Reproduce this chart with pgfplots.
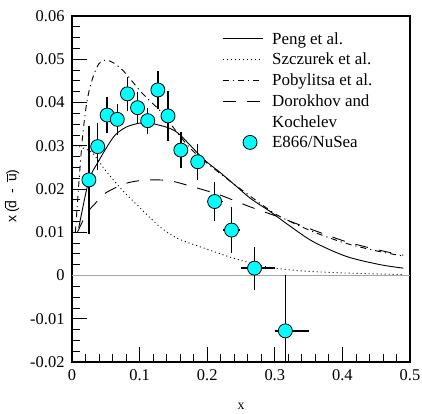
\documentclass[border=0pt]{standalone}
\usepackage{fontspec}
\setmainfont{Liberation Serif}
\newfontfamily\labelsans{Liberation Sans}
\usepackage{pgfplots}
\usepackage{pgfplotstable}
\pgfplotsset{compat=1.18}
\usetikzlibrary{calc}
\definecolor{aqua}{RGB}{0,255,255}
\newcommand\ovl[1]{\ensuremath{\overline{\mbox{#1}}}}

% E866/NuSea points: x, y, x errors, y errors
\pgfplotstableread{
x       y        xm     xp     ym      yp
0.025   0.0221   0.005  0.005  0.0125  0.0125
0.038   0.0298   0.005  0.005  0.0055  0.0055
0.052   0.0371   0.005  0.005  0.0042  0.0042
0.067   0.0361   0.005  0.005  0.0036  0.0036
0.082   0.0420   0.005  0.005  0.0039  0.0039
0.097   0.0388   0.005  0.005  0.0036  0.0036
0.112   0.0358   0.005  0.005  0.0030  0.0030
0.127   0.0429   0.005  0.005  0.0044  0.0044
0.142   0.0369   0.006  0.006  0.0058  0.0058
0.161   0.0290   0.010  0.010  0.0042  0.0042
0.186   0.0263   0.010  0.010  0.0042  0.0042
0.211   0.0171   0.012  0.012  0.0045  0.0045
0.236   0.0105   0.012  0.012  0.0054  0.0054
0.270   0.0017   0.020  0.030  0.0050  0.0050
0.3156  -0.0128  0.015  0.035  0.0072  0.0128
}\nusea

\begin{document}
\begin{tikzpicture}
\begin{axis}[
    scale only axis,
    width=338bp, height=346bp,
    xmin=0, xmax=0.5, ymin=-0.02, ymax=0.06,
    xtick={0,0.1,0.2,0.3,0.4,0.5},
    ytick={-0.02,-0.01,0,0.01,0.02,0.03,0.04,0.05,0.06},
    minor x tick num=4, minor y tick num=3,
    tick align=inside, xtick pos=bottom, ytick pos=left,
    major tick length=15bp, minor tick length=8bp,
    tick style={black, line width=0.8bp},
    axis line style={line width=1.2bp},
    scaled ticks=false,
    /pgf/number format/assume math mode=true,
    xticklabel style={/pgf/number format/fixed, yshift=-4bp},
    yticklabel style={/pgf/number format/fixed, /pgf/number format/precision=2, xshift=-4bp},
    tick label style={font=\fontsize{16.5}{18}\selectfont},
    xlabel={x},
    xlabel style={font=\fontsize{14}{16}\selectfont, at={(axis description cs:0.5,-0.128)}, anchor=center},
    ylabel={\labelsans x\,(\ovl{d}\enspace-\enspace\ovl{u})},
    ylabel style={font=\fontsize{14}{16}\selectfont, at={(axis description cs:-0.178,0.48)}, anchor=center},
    legend cell align=left,
    legend style={draw=none, fill=none, at={(0.435,0.965)}, anchor=north west,
        font=\fontsize{17}{19}\selectfont, row sep=3.5bp,
        nodes={inner sep=2bp},
        /tikz/every odd column/.append style={column sep=7bp}},
    legend image code/.code={\draw[#1] (0bp,0bp) -- (40bp,0bp);},
]
\addplot[gray!70, line width=1bp, forget plot] coordinates {(0,0) (0.5,0)};

\addplot[black, line width=0.9bp, smooth] coordinates {
    (0.010,0.0110) (0.025,0.0220) (0.040,0.0266) (0.052,0.0298) (0.064,0.0325)
    (0.080,0.0343) (0.099,0.0352) (0.115,0.0352) (0.128,0.0348) (0.145,0.0340)
    (0.160,0.0325) (0.194,0.0270) (0.220,0.0237) (0.244,0.0205) (0.265,0.0177)
    (0.293,0.0148) (0.320,0.0117) (0.357,0.0078) (0.406,0.0044) (0.456,0.0025)
    (0.490,0.0017)};
\addlegendentry{Peng et al.}

\addplot[black, line width=0.9bp, smooth, dash pattern=on 1bp off 3bp] coordinates {
    (0.005,0.0300) (0.012,0.0297) (0.030,0.0284) (0.049,0.0244) (0.074,0.0198)
    (0.099,0.0159) (0.128,0.0115) (0.145,0.0096) (0.160,0.0083) (0.194,0.0064)
    (0.239,0.0040) (0.288,0.0020) (0.337,0.0011) (0.400,0.0006) (0.490,0.0002)};
\addlegendentry{Szczurek et al.}

\addplot[black, line width=0.9bp, smooth, dash pattern=on 6bp off 4bp on 1.2bp off 4bp] coordinates {
    (0.005,0.0100) (0.010,0.0210) (0.015,0.0310) (0.020,0.0380) (0.025,0.0425)
    (0.032,0.0463) (0.040,0.0490) (0.049,0.0498) (0.060,0.0493) (0.076,0.0473)
    (0.099,0.0430) (0.113,0.0407) (0.133,0.0376) (0.175,0.0294) (0.219,0.0236)
    (0.278,0.0167) (0.308,0.0136) (0.357,0.0101) (0.406,0.0074) (0.456,0.0055)
    (0.490,0.0045)};
\addlegendentry{Pobylitsa et al.}

\addplot[black, line width=0.9bp, smooth, dash pattern=on 13bp off 11bp] coordinates {
    (0.008,0.0100) (0.022,0.0144) (0.037,0.0171) (0.049,0.0190) (0.074,0.0210)
    (0.094,0.0218) (0.118,0.0221) (0.145,0.0219) (0.179,0.0205) (0.219,0.0186)
    (0.263,0.0159) (0.308,0.0134) (0.357,0.0105) (0.406,0.0078) (0.456,0.0058)
    (0.490,0.0047)};
\addlegendentry{Dorokhov and}
\addlegendimage{empty legend}
\addlegendentry{Kochelev}

\addplot[only marks, mark=*, mark size=7bp,
    mark options={fill=aqua, draw=black, line width=0.8bp},
    legend image code/.code={
        \node[inner sep=0pt, minimum size=0pt, draw=none, fill=none] at (0bp,0bp) {};
        \node[inner sep=0pt, minimum size=0pt, draw=none, fill=none] at (40bp,0bp) {};
        \node[circle, draw=black, fill=aqua, line width=0.8bp,
        inner sep=0pt, minimum size=14bp] at (20bp,0bp) {};},
    error bars/.cd, x dir=both, x explicit, y dir=both, y explicit,
    error bar style={line width=1.5bp, black}, error mark=none]
    table[x=x, y=y, x error plus=xp, x error minus=xm,
          y error plus=yp, y error minus=ym] {\nusea};
\addlegendentry{E866/NuSea}
\end{axis}
\pgfresetboundingbox
\path[use as bounding box] ($(current axis.south west)+(-72bp,-52bp)$)
    rectangle ($(current axis.north east)+(12bp,16bp)$);
\end{tikzpicture}
\end{document}
